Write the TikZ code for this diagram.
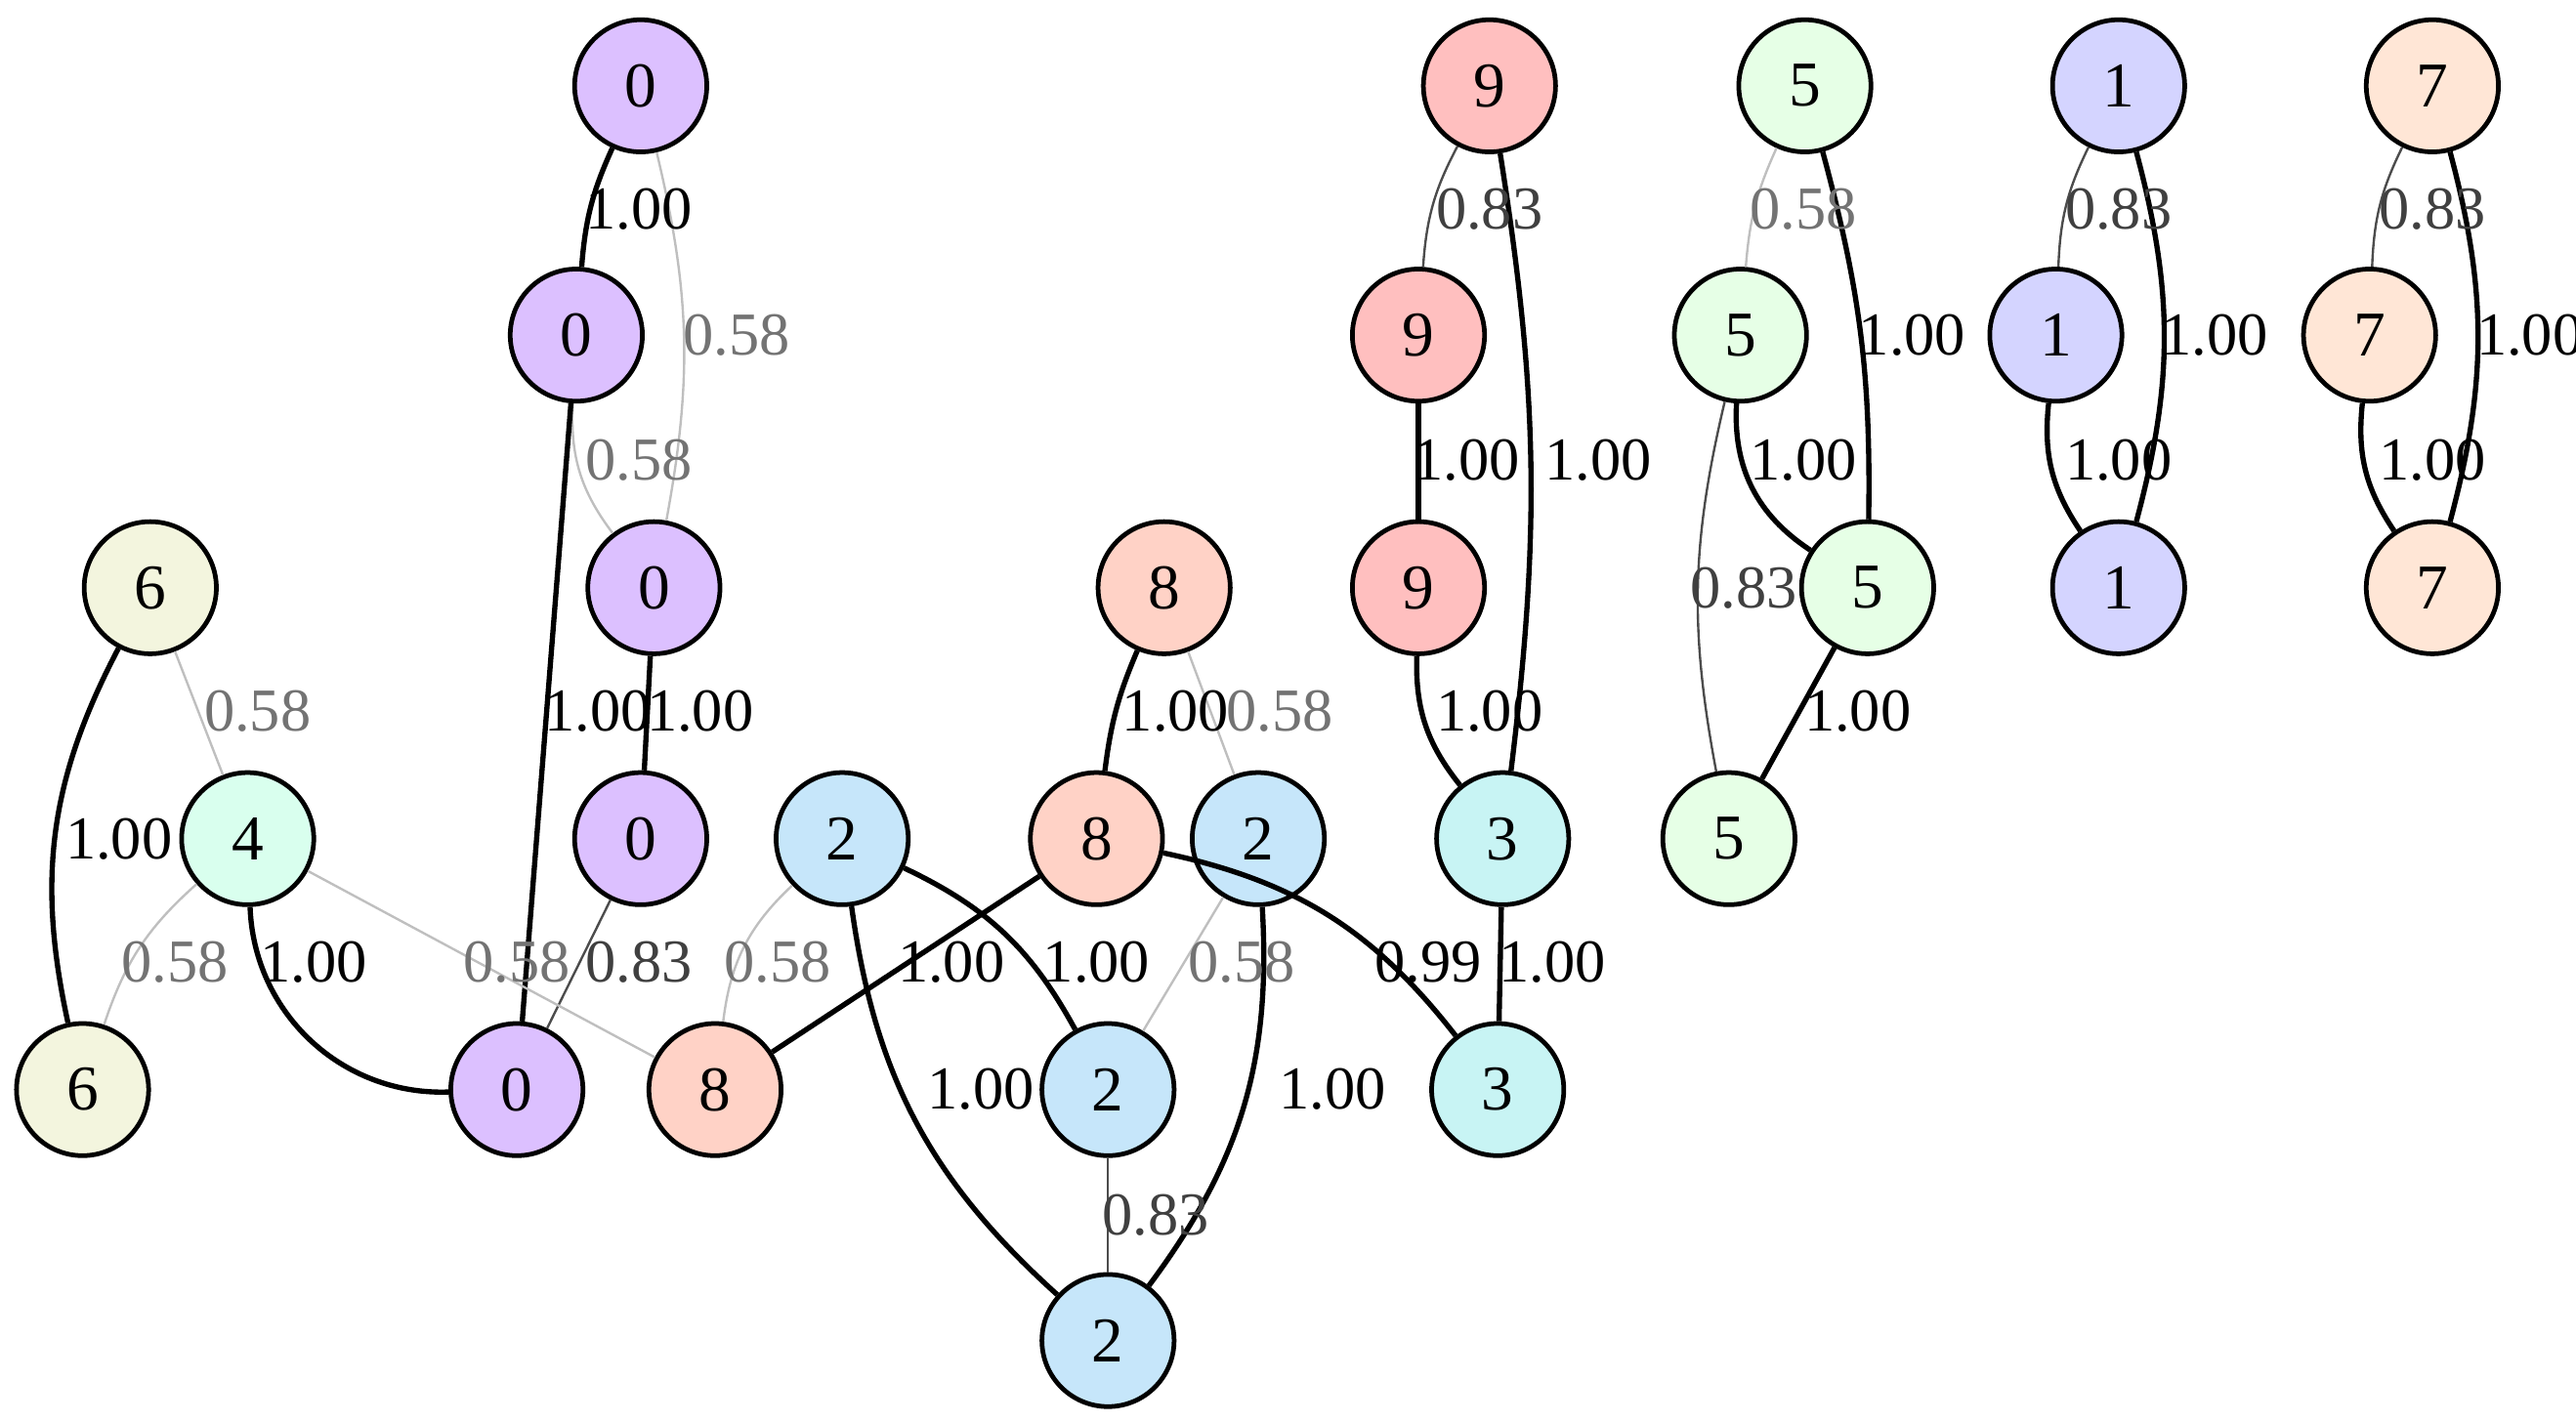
\documentclass[tikz,border=0pt]{standalone}
\usepackage{fontspec}
\setmainfont{Liberation Serif}
\begin{document}
\begin{tikzpicture}[x=0.01cm,y=-0.01cm,
 v/.style={circle,draw,line width=0.8pt,minimum size=0.8cm,inner sep=0pt,font=\fontsize{11}{13}\selectfont},
 s/.style={line width=0.9pt,black},
 m/.style={line width=0.4pt,black!70},
 w/.style={line width=0.4pt,black!25},
 ls/.style={font=\fontsize{10.5}{12}\selectfont,text=black},
 lm/.style={font=\fontsize{10.5}{12}\selectfont,text=black!75},
 lw/.style={font=\fontsize{10.5}{12}\selectfont,text=black!55}]
\useasboundingbox (0,0) rectangle (1560,861);
\definecolor{cP}{HTML}{DCC0FF}\definecolor{cB}{HTML}{F3F5DE}\definecolor{cM}{HTML}{D9FFEE}
\definecolor{cS}{HTML}{FFD2C6}\definecolor{cL}{HTML}{C6E6FA}\definecolor{cC}{HTML}{C8F4F4}
\definecolor{cR}{HTML}{FFBFBF}\definecolor{cG}{HTML}{E6FFE6}\definecolor{cV}{HTML}{D4D4FF}
\definecolor{cE}{HTML}{FFE6D6}
\node[v,fill=cP] (a0) at (388,52) {0};
\node[v,fill=cP] (a1) at (349,203) {0};
\node[v,fill=cP] (a2) at (396,356) {0};
\node[v,fill=cP] (a3) at (388,508) {0};
\node[v,fill=cP] (a4) at (313,660) {0};
\node[v,fill=cB] (b6a) at (91,356) {6};
\node[v,fill=cB] (b6b) at (50,660) {6};
\node[v,fill=cM] (m4) at (150,508) {4};
\node[v,fill=cS] (s8a) at (705,356) {8};
\node[v,fill=cS] (s8b) at (664,508) {8};
\node[v,fill=cS] (s8c) at (433,660) {8};
\node[v,fill=cL] (l2a) at (510,508) {2};
\node[v,fill=cL] (l2b) at (762,508) {2};
\node[v,fill=cL] (l2c) at (671,660) {2};
\node[v,fill=cL] (l2d) at (671,812) {2};
\node[v,fill=cC] (c3a) at (910,508) {3};
\node[v,fill=cC] (c3b) at (907,660) {3};
\node[v,fill=cR] (r9a) at (902,52) {9};
\node[v,fill=cR] (r9b) at (859,203) {9};
\node[v,fill=cR] (r9c) at (859,356) {9};
\node[v,fill=cG] (g5a) at (1093,52) {5};
\node[v,fill=cG] (g5b) at (1054,203) {5};
\node[v,fill=cG] (g5c) at (1131,356) {5};
\node[v,fill=cG] (g5d) at (1047,508) {5};
\node[v,fill=cV] (v1a) at (1283,52) {1};
\node[v,fill=cV] (v1b) at (1245,203) {1};
\node[v,fill=cV] (v1c) at (1283,356) {1};
\node[v,fill=cE] (e7a) at (1473,52) {7};
\node[v,fill=cE] (e7b) at (1435,203) {7};
\node[v,fill=cE] (e7c) at (1473,356) {7};
% edges
\draw[s] (a0) to[bend right=10] (a1);
\draw[w] (a0) to[bend left=12] (a2);
\draw[w] (a1) to[bend right=20] (a2);
\draw[s] (a1) -- (a4);
\draw[s] (a2) -- (a3);
\draw[m] (a3) -- (a4);
\draw[s] (b6a) to[bend right=20] (b6b);
\draw[w] (b6a) -- (m4);
\draw[w] (m4) to[bend right=15] (b6b);
\draw[s] (m4) to[bend right=45] (a4);
\draw[w] (m4) -- (s8c);
\draw[s] (s8a) to[bend right=8] (s8b);
\draw[w] (s8a) -- (l2b);
\draw[s] (s8b) -- (s8c);
\draw[s] (s8b) to[bend left=20] (c3b);
\draw[w] (l2a) to[bend right=20] (s8c);
\draw[s] (l2a) to[bend left=18] (l2c);
\draw[s] (l2a) to[bend right=20] (l2d);
\draw[w] (l2b) -- (l2c);
\draw[s] (l2b) to[bend left=20] (l2d);
\draw[m] (l2c) -- (l2d);
\draw[s] (c3a) -- (c3b);
\draw[m] (r9a) to[bend right=12] (r9b);
\draw[s] (r9a) to[bend left=8] (c3a);
\draw[s] (r9b) -- (r9c);
\draw[s] (r9c) to[bend right=20] (c3a);
\draw[w] (g5a) to[bend right=10] (g5b);
\draw[s] (g5a) to[bend left=8] (g5c);
\draw[s] (g5b) to[bend right=30] (g5c);
\draw[m] (g5b) to[bend right=12] (g5d);
\draw[s] (g5c) -- (g5d);
\draw[m] (v1a) to[bend right=12] (v1b);
\draw[s] (v1a) to[bend left=15] (v1c);
\draw[s] (v1b) to[bend right=20] (v1c);
\draw[m] (e7a) to[bend right=12] (e7b);
\draw[s] (e7a) to[bend left=15] (e7c);
\draw[s] (e7b) to[bend right=20] (e7c);
% labels
\node[ls] (t1) at (387,127) {1.00};
\node[lw] (t2) at (446,203) {0.58};
\node[lw] (t3) at (387,279) {0.58};
\node[ls] (t4) at (362,431) {1.00};
\node[ls] (t5) at (424,431) {1.00};
\node[lm] (t6) at (387,583) {0.83};
\node[ls] (t7) at (72,508) {1.00};
\node[lw] (t8) at (156,431) {0.58};
\node[lw] (t9) at (106,583) {0.58};
\node[ls] (t10) at (190,583) {1.00};
\node[lw] (t11) at (313,583) {0.58};
\node[ls] (t12) at (712,431) {1.00};
\node[lw] (t13) at (775,431) {0.58};
\node[ls] (t14) at (576,583) {1.00};
\node[ls] (t15) at (865,583) {0.99};
\node[lw] (t16) at (471,583) {0.58};
\node[ls] (t17) at (664,583) {1.00};
\node[ls] (t18) at (594,660) {1.00};
\node[lw] (t19) at (752,583) {0.58};
\node[ls] (t20) at (807,660) {1.00};
\node[lm] (t21) at (700,736) {0.83};
\node[ls] (t22) at (940,583) {1.00};
\node[lm] (t23) at (902,127) {0.83};
\node[ls] (t24) at (968,279) {1.00};
\node[ls] (t25) at (888,279) {1.00};
\node[ls] (t26) at (902,431) {1.00};
\node[lw] (t27) at (1092,127) {0.58};
\node[ls] (t28) at (1158,203) {1.00};
\node[ls] (t29) at (1092,279) {1.00};
\node[lm] (t30) at (1056,356) {0.83};
\node[ls] (t31) at (1125,431) {1.00};
\node[lm] (t32) at (1283,127) {0.83};
\node[ls] (t33) at (1341,203) {1.00};
\node[ls] (t34) at (1283,279) {1.00};
\node[lm] (t35) at (1473,127) {0.83};
\node[ls] (t36) at (1532,203) {1.00};
\node[ls] (t37) at (1473,279) {1.00};
\end{tikzpicture}
\end{document}
